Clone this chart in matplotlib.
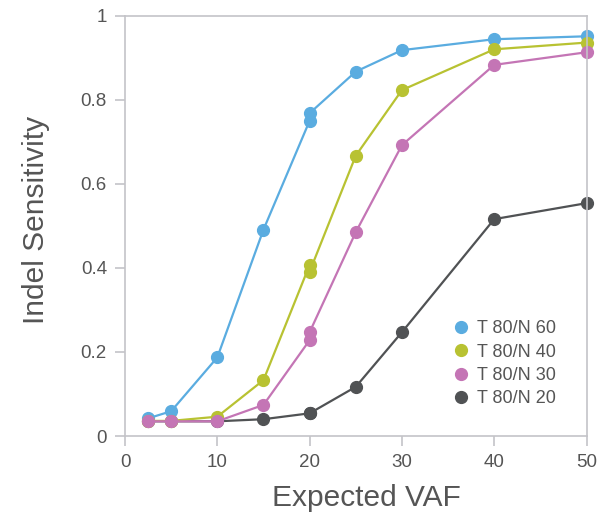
import matplotlib.pyplot as plt

vaf = [2.5, 5, 10, 15, 20, 20, 25, 30, 40, 50]
n60 = [0.042, 0.059, 0.187, 0.491, 0.750, 0.768, 0.867, 0.918, 0.944, 0.951]
n40 = [0.036, 0.036, 0.046, 0.133, 0.407, 0.391, 0.667, 0.823, 0.920, 0.936]
n30 = [0.035, 0.035, 0.035, 0.074, 0.228, 0.247, 0.485, 0.692, 0.883, 0.913]
n20 = [0.035, 0.035, 0.035, 0.040, 0.054, 0.054, 0.117, 0.247, 0.516, 0.554]
labels = ["T 80/N 60", "T 80/N 40", "T 80/N 30", "T 80/N 20"]
colors = ["#5aace0", "#b8c232", "#c475b5", "#505254"]

plt.rcParams['font.family'] = ['Liberation Sans', 'DejaVu Sans']
txt = "#555555"
grey = "#c4c4c8"

fig = plt.figure(figsize=(5.99, 5.16), dpi=100)
ax = fig.add_axes([0.2087, 0.155, 0.7705, 0.8146])

# dark series first so the others sit on top of it at low VAF
order = [3, 0, 1, 2]
handles = {}
for i in order:
    ys = [n60, n40, n30, n20][i]
    h, = ax.plot(vaf, ys, '-o', color=colors[i], lw=1.6, ms=8.5,
                 label=labels[i], clip_on=False)
    handles[i] = h

leg = ax.legend([handles[i] for i in range(4)], labels, loc='lower right',
                bbox_to_anchor=(0.97, 0.03), frameon=False, fontsize=13,
                handlelength=0.6, handletextpad=0.6, labelspacing=0.35,
                labelcolor=txt)
for lh in leg.legend_handles:
    lh.set_linestyle('none')

ax.set_xlim(0, 50)
ax.set_ylim(0, 1)
ax.set_xticks([0, 10, 20, 30, 40, 50])
ax.set_yticks([0, 0.2, 0.4, 0.6, 0.8, 1])
ax.set_yticklabels(["0", "0.2", "0.4", "0.6", "0.8", "1"])
for s in ax.spines.values():
    s.set_color(grey)
    s.set_linewidth(1.2)
ax.tick_params(direction='out', length=7, width=1.2, color=grey,
               labelsize=13.5, labelcolor=txt, pad=6)
ax.set_xlabel("Expected VAF", fontsize=21.5, color=txt)
ax.set_ylabel("Indel Sensitivity", fontsize=21.5, color=txt)
ax.xaxis.set_label_coords(0.524, -0.114)
ax.yaxis.set_label_coords(-0.162, 0.514)

fig.savefig("out.png", dpi=100)
